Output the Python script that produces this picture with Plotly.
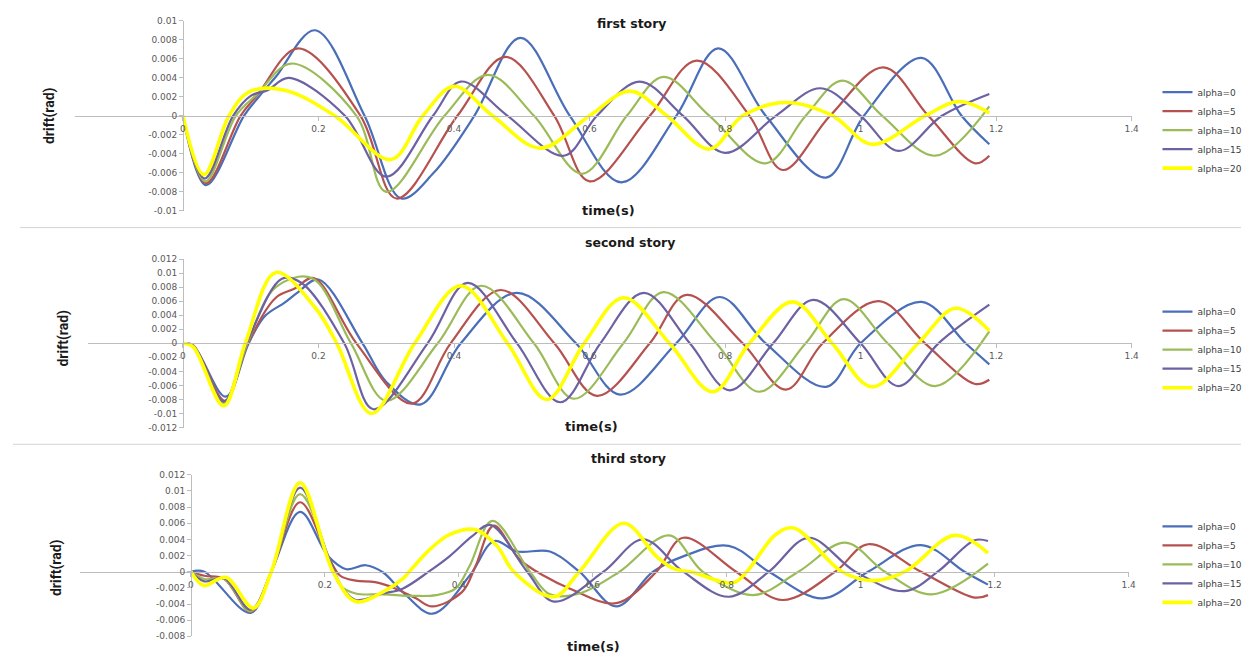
import plotly.graph_objects as go

W, H = 1248, 662

LABELS = ["alpha=0", "alpha=5", "alpha=10", "alpha=15", "alpha=20"]
COLORS = ["#4A6EB8", "#B5524F", "#9BBB59", "#6C62A3", "#FFFF00"]
WIDTHS = [2.2, 2.2, 2.2, 2.2, 3.6]

# ---------------- first story: time (s) / drift (milliradians) ----------------
t1_a0 = [0, 0.034, 0.09, 0.112, 0.137, 0.195, 0.268, 0.322, 0.37, 0.43, 0.498, 0.571, 0.647,
         0.728, 0.79, 0.86, 0.949, 1.005, 1.09, 1.149, 1.19]
d1_a0 = [0, -7.3, 0, 2.0, 4.1, 9.0, 0, -8.7, -6.0, 0, 8.2, 0, -7.0,
         0, 7.1, 0, -6.5, 0, 6.1, 0, -3.0]
t1_a5 = [0, 0.034, 0.085, 0.11, 0.17, 0.262, 0.315, 0.405, 0.476, 0.548, 0.60, 0.689, 0.758,
         0.836, 0.885, 0.955, 1.034, 1.10, 1.169, 1.19]
d1_a5 = [0, -7.1, 0, 2.2, 7.1, 0, -8.7, 0, 6.2, 0, -6.9, 0, 5.8,
         0, -5.7, 0, 5.1, 0, -5.0, -4.2]
t1_a10 = [0, 0.033, 0.078, 0.11, 0.16, 0.256, 0.30, 0.386, 0.45, 0.518, 0.589, 0.655, 0.709,
          0.777, 0.86, 0.919, 0.973, 1.032, 1.11, 1.19]
d1_a10 = [0, -6.9, 0, 2.3, 5.5, 0, -8.0, 0, 4.3, 0, -6.1, 0, 4.1,
          0, -5.0, 0, 3.7, 0, -4.2, 1.0]
t1_a15 = [0, 0.032, 0.074, 0.10, 0.125, 0.156, 0.239, 0.30, 0.369, 0.41, 0.479, 0.562, 0.611,
          0.674, 0.738, 0.80, 0.875, 0.941, 1.0, 1.056, 1.12, 1.19]
d1_a15 = [0, -6.6, 0, 2.1, 2.7, 4.0, 0, -6.4, 0, 3.6, 0, -4.2, 0,
          3.6, 0, -3.9, 0, 2.9, 0, -3.7, 0, 2.3]
t1_a20 = [0, 0.031, 0.068, 0.097, 0.15, 0.224, 0.307, 0.354, 0.40, 0.457, 0.527, 0.60, 0.66,
          0.714, 0.777, 0.826, 0.89, 0.959, 1.017, 1.095, 1.145, 1.19]
d1_a20 = [0, -6.2, 0, 2.5, 2.7, 0, -4.6, 0, 3.1, 0, -3.4, 0, 2.6,
          0, -3.5, 0, 1.4, 0, -3.0, 0, 1.5, 0.3]

# ---------------- second story ----------------
t2_a0 = [0, 0.015, 0.063, 0.097, 0.12, 0.15, 0.17, 0.2, 0.265, 0.30, 0.351, 0.41, 0.493, 0.58,
         0.645, 0.728, 0.792, 0.86, 0.949, 1.0, 1.09, 1.155, 1.19]
d2_a0 = [0, -0.3, -7.6, 0, 3.8, 5.8, 7.3, 9.1, 0, -5.5, -8.7, 0, 7.2, 0,
         -7.3, 0, 6.6, 0, -6.2, 0, 5.9, 0, -3.0]
t2_a5 = [0, 0.015, 0.062, 0.096, 0.137, 0.165, 0.193, 0.256, 0.338, 0.395, 0.469, 0.548, 0.611,
         0.689, 0.743, 0.826, 0.89, 0.944, 1.027, 1.095, 1.169, 1.19]
d2_a5 = [0, -0.3, -8.2, 0, 6.5, 7.8, 9.3, 0, -8.6, 0, 7.6, 0, -7.5,
         0, 6.9, 0, -6.6, 0, 6.0, 0, -5.8, -5.2]
t2_a10 = [0, 0.015, 0.061, 0.095, 0.137, 0.19, 0.248, 0.30, 0.376, 0.44, 0.518, 0.577, 0.65,
          0.709, 0.787, 0.85, 0.919, 0.975, 1.04, 1.11, 1.19]
d2_a10 = [0, -0.4, -8.5, 0, 8.0, 9.3, 0, -8.2, 0, 8.2, 0, -7.9, 0,
          7.3, 0, -6.9, 0, 6.3, 0, -6.1, 1.7]
t2_a15 = [0, 0.015, 0.06, 0.094, 0.146, 0.175, 0.238, 0.281, 0.361, 0.42, 0.493, 0.557, 0.616,
          0.68, 0.748, 0.807, 0.871, 0.93, 1.0, 1.056, 1.115, 1.19]
d2_a15 = [0, -0.4, -8.3, 0, 9.2, 8.6, 0, -9.4, 0, 8.6, 0, -8.4, 0,
          7.2, 0, -6.7, 0, 6.2, 0, -6.1, 0, 5.5]
t2_a20 = [0, 0.015, 0.06, 0.092, 0.137, 0.195, 0.227, 0.278, 0.342, 0.41, 0.479, 0.537, 0.592,
          0.65, 0.718, 0.782, 0.836, 0.90, 0.958, 1.017, 1.085, 1.14, 1.19]
d2_a20 = [0, -0.5, -8.9, 0, 10.1, 5.1, 0, -10.0, 0, 8.2, 0, -8.0, 0,
          6.5, 0, -6.9, 0, 5.9, 0, -6.2, 0, 5.0, 1.8]

# ---------------- third story ----------------
t3_a0 = [0, 0.02, 0.089, 0.12, 0.163, 0.205, 0.232, 0.261, 0.287, 0.316, 0.361, 0.416, 0.453,
         0.487, 0.536, 0.58, 0.635, 0.69, 0.735, 0.803, 0.863, 0.943, 1.011, 1.09, 1.155, 1.19]
d3_a0 = [0, 0, -5.1, 0, 7.4, 1.9, 0.3, 0.8, -0.1, -2.5, -5.2, -0.5, 3.8,
         2.5, 2.5, 0, -4.3, 0, 1.9, 3.2, 0, -3.3, 0, 3.3, 0, -1.6]
t3_a5 = [0, 0.02, 0.05, 0.089, 0.12, 0.163, 0.205, 0.223, 0.246, 0.275, 0.306, 0.336, 0.36,
         0.405, 0.425, 0.452, 0.491, 0.527, 0.566, 0.635, 0.695, 0.735, 0.814, 0.883, 0.962,
         1.011, 1.09, 1.17, 1.19]
d3_a5 = [0, -0.5, -0.9, -5.0, 0, 8.6, 1.9, -0.5, -1.1, -1.3, -2.1, -3.3, -4.3,
         -2.5, 0.7, 5.7, 1.5, -0.5, -2.1, -3.9, 0, 4.2, 0, -3.5, 0,
         3.4, 0, -3.2, -2.9]
t3_a10 = [0, 0.02, 0.05, 0.089, 0.12, 0.163, 0.205, 0.223, 0.246, 0.287, 0.336, 0.366, 0.395,
          0.416, 0.45, 0.506, 0.536, 0.58, 0.64, 0.714, 0.764, 0.839, 0.907, 0.977, 1.036,
          1.106, 1.19]
d3_a10 = [0, -0.9, -0.9, -4.9, 0, 9.6, 1.9, -1.7, -2.7, -2.8, -3.0, -2.9, -2.1,
          0.7, 6.3, 0, -2.8, -2.7, 0, 4.5, 0, -2.9, 0, 3.6, 0,
          -2.8, 1.0]
t3_a15 = [0, 0.02, 0.05, 0.089, 0.12, 0.163, 0.205, 0.227, 0.246, 0.287, 0.316, 0.355, 0.386,
          0.42, 0.447, 0.502, 0.542, 0.616, 0.675, 0.735, 0.803, 0.863, 0.922, 0.992, 1.066,
          1.115, 1.17, 1.19]
d3_a15 = [0, -1.2, -0.8, -4.7, 0, 10.4, 1.9, -2.1, -3.5, -2.7, -2.1, 0, 1.9,
          4.4, 5.8, 0, -3.7, 0, 4.0, 0, -3.1, 0, 4.2, 0, -2.4,
          0, 3.9, 3.8]
t3_a20 = [0, 0.019, 0.052, 0.093, 0.12, 0.163, 0.212, 0.246, 0.287, 0.316, 0.326, 0.356, 0.386,
          0.425, 0.457, 0.482, 0.542, 0.58, 0.646, 0.695, 0.72, 0.75, 0.809, 0.83, 0.873,
          0.9, 0.972, 1.02, 1.066, 1.14, 1.19]
d3_a20 = [0, -1.7, -0.7, -4.5, 0, 11.0, 0, -3.7, -2.5, -0.9, 0, 2.7, 4.6,
          5.2, 3.2, 0, -3.1, 0, 6.0, 1.9, 0.4, -0.1, -1.4, 0, 4.6,
          5.4, 0, -1.1, 0, 4.5, 2.3]

# ---------------- axis ticks ----------------
x_ticks = [0, 0.2, 0.4, 0.6, 0.8, 1.0, 1.2, 1.4]
x_ticktext = ["0", "0.2", "0.4", "0.6", "0.8", "1", "1.2", "1.4"]
y1_ticks = [-0.01, -0.008, -0.006, -0.004, -0.002, 0, 0.002, 0.004, 0.006, 0.008, 0.01]
y1_ticktext = ["-0.01", "-0.008", "-0.006", "-0.004", "-0.002", "0",
               "0.002", "0.004", "0.006", "0.008", "0.01"]
y2_ticks = [-0.012, -0.01, -0.008, -0.006, -0.004, -0.002, 0,
            0.002, 0.004, 0.006, 0.008, 0.01, 0.012]
y2_ticktext = ["-0.012", "-0.01", "-0.008", "-0.006", "-0.004", "-0.002", "0",
               "0.002", "0.004", "0.006", "0.008", "0.01", "0.012"]
y3_ticks = [-0.008, -0.006, -0.004, -0.002, 0, 0.002, 0.004, 0.006, 0.008, 0.01, 0.012]
y3_ticktext = ["-0.008", "-0.006", "-0.004", "-0.002", "0",
               "0.002", "0.004", "0.006", "0.008", "0.01", "0.012"]

stories = [
    dict(title="first story",
         times=[t1_a0, t1_a5, t1_a10, t1_a15, t1_a20],
         drifts=[d1_a0, d1_a5, d1_a10, d1_a15, d1_a20],
         yticks=y1_ticks, yticktext=y1_ticktext, yrange=[-0.01, 0.01]),
    dict(title="second story",
         times=[t2_a0, t2_a5, t2_a10, t2_a15, t2_a20],
         drifts=[d2_a0, d2_a5, d2_a10, d2_a15, d2_a20],
         yticks=y2_ticks, yticktext=y2_ticktext, yrange=[-0.012, 0.012]),
    dict(title="third story",
         times=[t3_a0, t3_a5, t3_a10, t3_a15, t3_a20],
         drifts=[d3_a0, d3_a5, d3_a10, d3_a15, d3_a20],
         yticks=y3_ticks, yticktext=y3_ticktext, yrange=[-0.008, 0.012]),
]

# pixel geometry of each panel (left end of time axis, t=0, t=1.4, top, bottom)
geom = [
    dict(xl=75, x0=184, xr=1138, yt=16, yb=209,
         title=(636, 19), xlab=(612, 209), ylab=(50, 112), legend_y=127),
    dict(xl=88, x0=184, xr=1138, yt=258, yb=429,
         title=(634, 241), xlab=(595, 428), ylab=(64, 338), legend_y=350),
    dict(xl=80, x0=192, xr=1135, yt=477, yb=641,
         title=(632, 460), xlab=(597, 651), ylab=(57, 571), legend_y=568),
]

AXIS_GREY = "#BDBDBD"
TICK_FONT = dict(family="DejaVu Sans", size=9, color="#595959")
BOLD_FONT = dict(family="DejaVu Sans", size=12.5, color="#1a1a1a", weight="bold")
NARROW_FONT = dict(family="Liberation Sans Narrow, Roboto, sans-serif",
                   size=14, color="#1a1a1a", weight="bold")


def px(x):
    return x / W


def py(y):
    return 1 - y / H


fig = go.Figure()
annotations = []
layout_axes = {}

for i, (story, g) in enumerate(zip(stories, geom), start=1):
    suffix = "" if i == 1 else str(i)
    legend_name = "legend" if i == 1 else f"legend{i}"
    for k in range(5):
        fig.add_trace(go.Scatter(
            x=story["times"][k],
            y=[v * 1e-3 for v in story["drifts"][k]],
            mode="lines",
            name=LABELS[k],
            line=dict(color=COLORS[k], width=WIDTHS[k], shape="spline", smoothing=1.0),
            xaxis=f"x{suffix}", yaxis=f"y{suffix}",
            legend=legend_name,
            hoverinfo="skip",
        ))

    ymin, ymax = story["yrange"]
    xmin = -(g["x0"] - g["xl"]) / (g["xr"] - g["x0"]) * 1.4
    y_zero_px = g["yt"] + ymax / (ymax - ymin) * (g["yb"] - g["yt"])

    layout_axes[f"xaxis{suffix}"] = dict(
        domain=[px(g["xl"]), px(g["xr"])], range=[xmin, 1.4],
        anchor="free", position=py(y_zero_px),
        tickvals=x_ticks, ticktext=x_ticktext,
        ticks="outside", ticklen=4, tickcolor=AXIS_GREY, tickfont=TICK_FONT,
        showline=True, linecolor=AXIS_GREY, linewidth=1,
        showgrid=False, zeroline=False, fixedrange=True,
    )
    layout_axes[f"yaxis{suffix}"] = dict(
        domain=[py(g["yb"]), py(g["yt"])], range=[ymin, ymax],
        anchor="free", position=px(g["x0"]),
        tickvals=story["yticks"], ticktext=story["yticktext"],
        ticks="outside", ticklen=4, tickcolor=AXIS_GREY, tickfont=TICK_FONT,
        showline=True, linecolor=AXIS_GREY, linewidth=1,
        showgrid=False, zeroline=False, fixedrange=True,
    )
    layout_axes[legend_name] = dict(
        x=px(1164), y=py(g["legend_y"]), xanchor="left", yanchor="middle",
        font=dict(family="DejaVu Sans", size=9, color="#404040"),
        bgcolor="rgba(0,0,0,0)", borderwidth=0, tracegroupgap=0,
    )

    annotations.append(dict(
        x=px(g["title"][0]), y=py(g["title"][1]), xref="paper", yref="paper",
        text=story["title"], showarrow=False, font=BOLD_FONT,
        xanchor="center", yanchor="middle"))
    annotations.append(dict(
        x=px(g["xlab"][0]), y=py(g["xlab"][1]), xref="paper", yref="paper",
        text="time(s)", showarrow=False,
        font=dict(family="DejaVu Sans", size=13, color="#1a1a1a", weight="bold"),
        xanchor="center", yanchor="middle"))
    annotations.append(dict(
        x=px(g["ylab"][0]), y=py(g["ylab"][1]), xref="paper", yref="paper",
        text="drift(rad)", showarrow=False, textangle=-90, font=NARROW_FONT,
        xanchor="center", yanchor="middle"))

# thin frames separating the three charts
separators = [
    dict(type="line", xref="paper", yref="paper", x0=px(20), x1=1, y0=py(226), y1=py(226),
         line=dict(color="#D4D4D4", width=1)),
    dict(type="line", xref="paper", yref="paper", x0=px(13), x1=1, y0=py(446), y1=py(446),
         line=dict(color="#D4D4D4", width=1)),
]

fig.update_layout(
    width=W, height=H, autosize=False,
    margin=dict(l=0, r=0, t=0, b=0),
    paper_bgcolor="white", plot_bgcolor="rgba(0,0,0,0)",
    annotations=annotations, shapes=separators,
    showlegend=True,
    **layout_axes,
)

fig.write_html("out.html")
